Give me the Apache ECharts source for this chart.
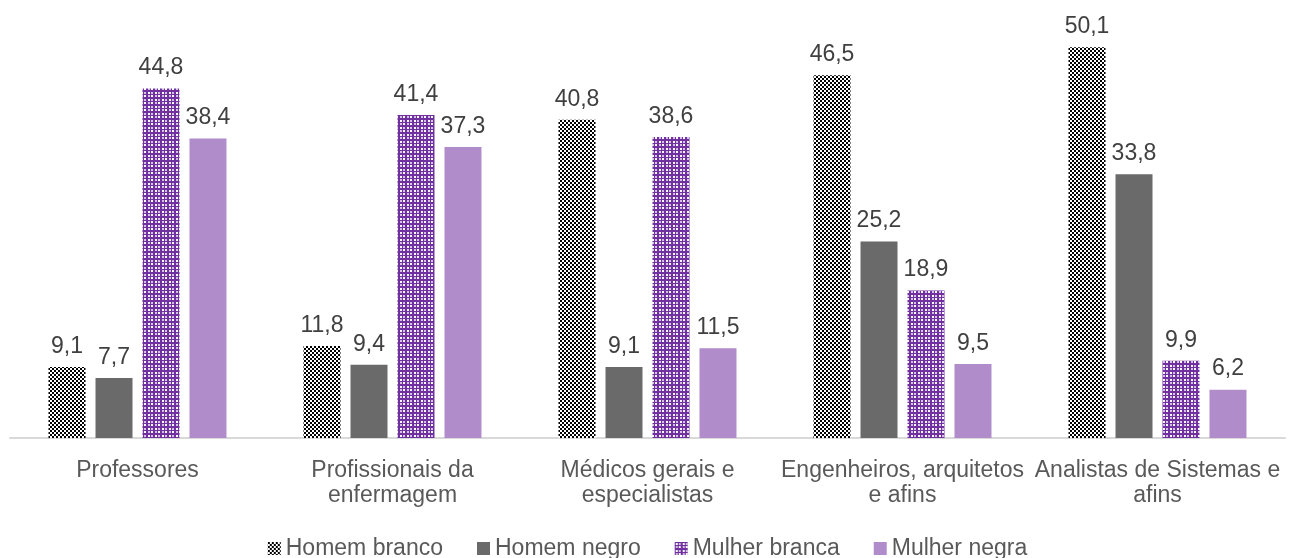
<!DOCTYPE html>
<html>
<head>
<meta charset="utf-8">
<script src="https://cdn.jsdelivr.net/npm/echarts@6/dist/echarts.min.js"></script>
<style>
  html, body { margin: 0; padding: 0; background: #fff; }
  #main { width: 1295px; height: 558px; }
</style>
</head>
<body>
<div id="main"></div>
<script>
var categories = ['Professores', 'Profissionais da\nenfermagem', 'Médicos gerais e\nespecialistas', 'Engenheiros, arquitetos\ne afins', 'Analistas de Sistemas e\nafins'];
var seriesNames = ['Homem branco', 'Homem negro', 'Mulher branca', 'Mulher negra'];
var homemBranco = [9.1, 11.8, 40.8, 46.5, 50.1];
var homemNegro = [7.7, 9.4, 9.1, 25.2, 33.8];
var mulherBranca = [44.8, 41.4, 38.6, 18.9, 9.9];
var mulherNegra = [38.4, 37.3, 11.5, 9.5, 6.2];

var FONT = "'Liberation Sans', Arial, sans-serif";

// padrão xadrez preto/branco
function checkerPattern() {
    var c = document.createElement('canvas');
    c.width = 4; c.height = 4;
    var ctx = c.getContext('2d');
    ctx.fillStyle = '#ffffff';
    ctx.fillRect(0, 0, 4, 4);
    ctx.fillStyle = '#000000';
    ctx.fillRect(0, 0, 2, 2);
    ctx.fillRect(2, 2, 2, 2);
    return c;
}
// padrão roxo com quadrados brancos
function purplePattern() {
    var c = document.createElement('canvas');
    c.width = 7; c.height = 7;
    var ctx = c.getContext('2d');
    ctx.fillStyle = '#7030a0';
    ctx.fillRect(0, 0, 7, 7);
    ctx.fillStyle = '#ffffff';
    ctx.fillRect(1, 1, 2, 2);
    ctx.fillRect(4, 4, 2, 2);
    ctx.fillStyle = '#d6c0e8';
    ctx.fillRect(4, 1, 2, 2);
    ctx.fillRect(1, 4, 2, 2);
    return c;
}

var labelStyle = {
    show: true,
    position: 'top',
    distance: 9,
    color: '#404040',
    fontSize: 23,
    fontFamily: FONT,
    formatter: function (p) { return p.value.toFixed(1).replace('.', ','); }
};

function makeSeries(name, data, color) {
    return {
        name: name,
        type: 'bar',
        data: data,
        barWidth: 37,
        barGap: '27%',
        itemStyle: { color: color },
        label: labelStyle
    };
}

var option = {
    animation: false,
    grid: { left: 10, right: 10, top: 9, bottom: 120 },
    legend: {
        bottom: -2,
        padding: 0,
        itemWidth: 13,
        itemHeight: 13,
        itemGap: 34,
        icon: 'rect',
        textStyle: { color: '#595959', fontSize: 23, fontFamily: FONT },
        data: seriesNames
    },
    xAxis: {
        type: 'category',
        data: categories,
        axisLine: { lineStyle: { color: '#d9d9d9', width: 2 } },
        axisTick: { show: false },
        axisLabel: {
            color: '#595959',
            fontSize: 23,
            lineHeight: 25,
            margin: 20,
            interval: 0,
            fontFamily: FONT
        }
    },
    yAxis: {
        type: 'value',
        min: 0,
        max: 55,
        show: false,
        splitLine: { show: false }
    },
    series: [
        makeSeries(seriesNames[0], homemBranco, { image: checkerPattern(), repeat: 'repeat' }),
        makeSeries(seriesNames[1], homemNegro, '#6a6a6a'),
        makeSeries(seriesNames[2], mulherBranca, { image: purplePattern(), repeat: 'repeat' }),
        makeSeries(seriesNames[3], mulherNegra, '#b08ccb')
    ]
};

var myChart = echarts.init(document.getElementById('main'));
myChart.setOption(option);
</script>
</body>
</html>
